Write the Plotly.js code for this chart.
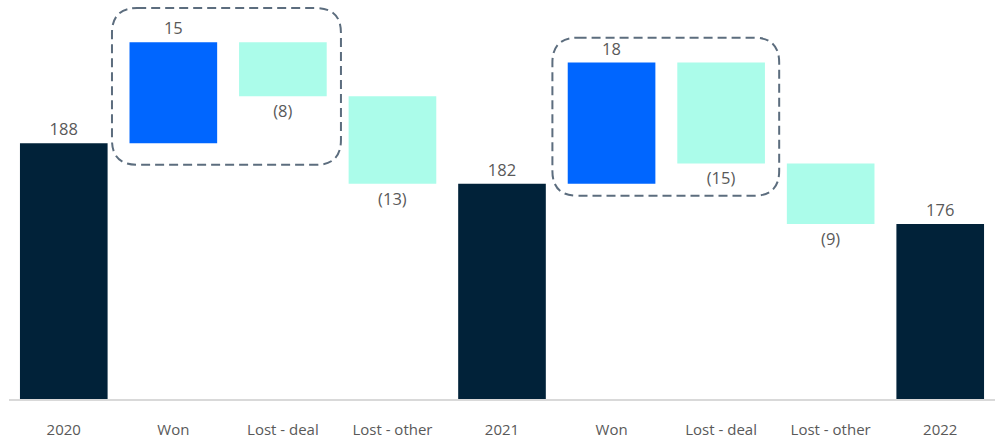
<!DOCTYPE html>
<html>
<head>
<meta charset="utf-8">
<script src="https://cdn.plot.ly/plotly-3.0.1.min.js"></script>
<style>html,body{margin:0;padding:0;background:#fff;}#chart{width:995px;height:438px;}</style>
</head>
<body>
<div id="chart"></div>
<script>
// Data
const categories = ["2020", "Won", "Lost - deal", "Lost - other", "2021", "Won ", "Lost - deal ", "Lost - other ", "2022"];
const tickLabels = ["2020", "Won", "Lost - deal", "Lost - other", "2021", "Won", "Lost - deal", "Lost - other", "2022"];
const measures = ["absolute", "relative", "relative", "relative", "absolute", "relative", "relative", "relative", "absolute"];
const values = [188, 15, -8, -13, 182, 18, -15, -9, 176];

const labels = values.map(v => v < 0 ? "(" + (-v) + ")" : String(v));

const boxColor = "#5c6d7e";
function roundedBox(x0, x1, y0, y1, rx, ry) {
  return "M" + (x0 + rx) + "," + y1 +
    " L" + (x1 - rx) + "," + y1 +
    " Q" + x1 + "," + y1 + " " + x1 + "," + (y1 - ry) +
    " L" + x1 + "," + (y0 + ry) +
    " Q" + x1 + "," + y0 + " " + (x1 - rx) + "," + y0 +
    " L" + (x0 + rx) + "," + y0 +
    " Q" + x0 + "," + y0 + " " + x0 + "," + (y0 + ry) +
    " L" + x0 + "," + (y1 - ry) +
    " Q" + x0 + "," + y1 + " " + (x0 + rx) + "," + y1 + " Z";
}
const rx = 0.23, ry = 3.7;

const trace = {
  type: "waterfall",
  x: categories,
  y: values,
  measure: measures,
  text: labels,
  textposition: "outside",
  textfont: {family: "Open Sans, sans-serif", size: 16.5, color: "#595959"},
  cliponaxis: false,
  connector: {visible: false},
  increasing: {marker: {color: "#0066ff"}},
  decreasing: {marker: {color: "#abfcea"}},
  totals: {marker: {color: "#012239"}},
  hoverinfo: "none"
};

const layout = {
  width: 995, height: 438,
  margin: {l: 9, r: 0, t: 4, b: 39},
  paper_bgcolor: "#fff", plot_bgcolor: "#fff",
  showlegend: false,
  bargap: 0.16,
  xaxis: {
    type: "category",
    tickvals: categories,
    ticktext: tickLabels,
    showline: true, linecolor: "#d9d9d9", linewidth: 1.5,
    showgrid: false, zeroline: false,
    ticks: "",
    ticklabelstandoff: 16,
    tickfont: {family: "Open Sans, sans-serif", size: 15, color: "#595959"}
  },
  yaxis: {
    range: [150, 208.7],
    visible: false, showgrid: false, zeroline: false, fixedrange: true
  },
  shapes: [
    {type: "path", xref: "x", yref: "y", path: roundedBox(0.44, 2.53, 184.8, 208.1, rx, ry),
     line: {color: boxColor, width: 2, dash: "9px,5px"}, fillcolor: "rgba(0,0,0,0)", layer: "above"},
    {type: "path", xref: "x", yref: "y", path: roundedBox(4.46, 6.53, 180.2, 203.7, rx, ry),
     line: {color: boxColor, width: 2, dash: "9px,5px"}, fillcolor: "rgba(0,0,0,0)", layer: "above"}
  ]
};

Plotly.newPlot("chart", [trace], layout, {displayModeBar: false, staticPlot: true});
</script>
</body>
</html>
